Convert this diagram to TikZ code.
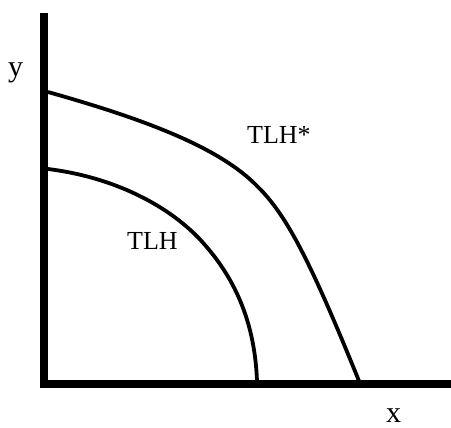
\documentclass[tikz,border=0pt]{standalone}
\usepackage{fontspec}
\setmainfont{Liberation Serif}
\begin{document}
\begin{tikzpicture}[x=1pt,y=-1pt,
  axisline/.style={line width=8pt,line join=miter,line cap=butt},
  curveline/.style={line width=3.8pt,line cap=butt,line join=round},
  lbl/.style={font=\fontsize{26}{28}\selectfont,inner sep=0pt,anchor=base west},
  axlbl/.style={font=\fontsize{30}{32}\selectfont,inner sep=0pt,anchor=base west}]
\useasboundingbox (0,0) rectangle (451,428);
\coordinate (ytop) at (44,13);
\coordinate (origin) at (44,384);
\coordinate (xend) at (451,384);
\coordinate (s1) at (48,92);
\coordinate (s2) at (257,186);
\coordinate (s3) at (359,381);
\coordinate (t1) at (48,169);
\coordinate (t2) at (205,245);
\coordinate (t3) at (257,381);
\draw[curveline] (s1) .. controls (140,118) and (218,146) .. (s2)
  .. controls (286,214) and (310,260) .. (s3);
\draw[curveline] (t1) .. controls (120,178) and (175,210) .. (t2)
  .. controls (240,285) and (255,330) .. (t3);
\draw[axisline] (ytop) -- (origin) -- (xend);
\node[lbl] (tlhs) at (247,144) {TLH*};
\node[lbl] (tlh) at (127,250) {TLH};
\node[axlbl] (ylab) at (8,77) {y};
\node[axlbl] (xlab) at (386,423) {x};
\end{tikzpicture}
\end{document}
